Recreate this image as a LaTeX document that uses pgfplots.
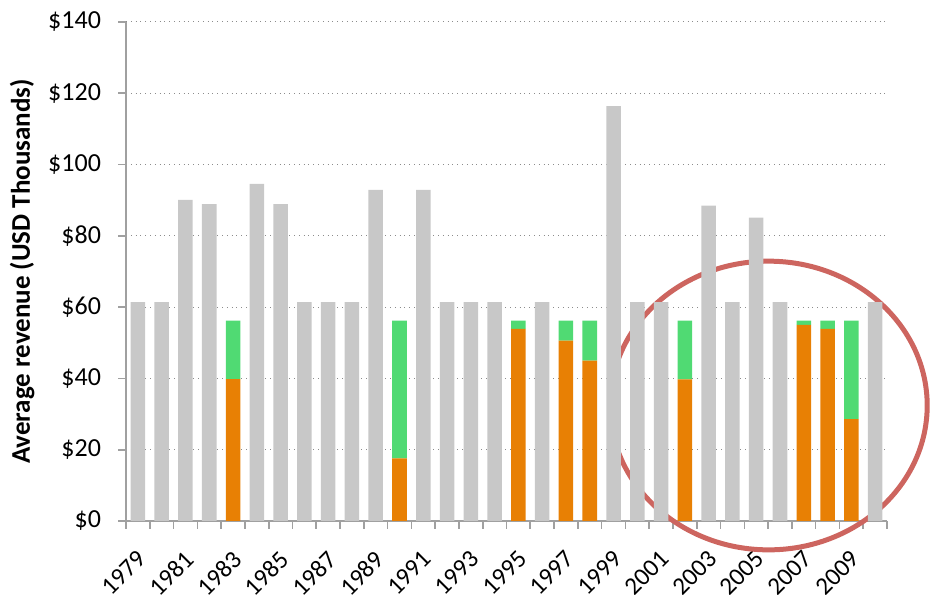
\documentclass[border=0pt]{standalone}
\usepackage{pgfplots}
\pgfplotsset{compat=1.18}
\usepackage{pgfplotstable}
\usepackage{fontspec}
\setmainfont{Carlito}

\definecolor{barGray}{RGB}{200,200,200}
\definecolor{barOrange}{RGB}{232,128,4}
\definecolor{barGreen}{RGB}{80,218,115}
\definecolor{axGray}{RGB}{160,160,160}
\definecolor{gridGray}{RGB}{140,140,140}
\definecolor{circRed}{RGB}{205,101,95}

% idx = year - 1979
\pgfplotstableread{
idx gray orange green
0  61.4 0    0
1  61.4 0    0
2  90.1 0    0
3  88.9 0    0
4  0    39.8 16.4
5  94.6 0    0
6  88.9 0    0
7  61.4 0    0
8  61.4 0    0
9  61.4 0    0
10 92.9 0    0
11 0    17.6 38.6
12 92.9 0    0
13 61.4 0    0
14 61.4 0    0
15 61.4 0    0
16 0    53.9 2.3
17 61.4 0    0
18 0    50.6 5.6
19 0    45.0 11.2
20 116.4 0   0
21 61.4 0    0
22 61.4 0    0
23 0    39.7 16.5
24 88.5 0    0
25 61.4 0    0
26 85.1 0    0
27 61.4 0    0
28 0    55.0 1.2
29 0    53.9 2.3
30 0    28.6 27.6
31 61.4 0    0
}\revenue

\begin{document}
\begin{tikzpicture}
\begin{axis}[
    scale only axis,
    width=380.5pt, height=249.5pt,
    ybar stacked,
    bar width=0.61,
    xmin=-0.5, xmax=31.5,
    ymin=0, ymax=140,
    clip=false,
    axis x line*=bottom,
    axis y line*=left,
    axis line style={axGray, line width=0.8pt},
    xtick={-0.5,0.5,...,31.5},
    xticklabels={1979,,1981,,1983,,1985,,1987,,1989,,1991,,1993,,1995,,1997,,1999,,2001,,2003,,2005,,2007,,2009,,},
    xticklabel style={font=\fontsize{12.5}{14}\selectfont, inner sep=0pt, xshift=5pt, yshift=-10pt, rotate=45, anchor=north east},
    ytick={0,20,...,140},
    yticklabels={\$0,\$20,\$40,\$60,\$80,\$100,\$120,\$140},
    yticklabel style={font=\fontsize{13}{15}\selectfont, xshift=-5pt},
    tick style={axGray, line width=0.8pt},
    tick align=outside,
    major tick length=4pt,
    ymajorgrids,
    major grid style={gridGray, dotted, line width=0.5pt},
    ylabel={Average revenue (USD Thousands)},
    ylabel style={font=\fontsize{13.5}{15}\selectfont\bfseries},
]
\addplot[fill=barGray, draw=none] table[x=idx, y=gray] {\revenue};
\addplot[fill=barOrange, draw=none] table[x=idx, y=orange] {\revenue};
\addplot[fill=barGreen, draw=none] table[x=idx, y=green] {\revenue};
\draw[circRed, line width=2.5pt] (axis cs:26.52,32.4) ellipse [x radius=6.67, y radius=40.5];
\coordinate (bbsw) at (rel axis cs:-0.1656,-0.1483);
\coordinate (bbne) at (rel axis cs:1.0565,1.0441);
\end{axis}
\pgfresetboundingbox
\useasboundingbox (bbsw) rectangle (bbne);
\end{tikzpicture}
\end{document}
